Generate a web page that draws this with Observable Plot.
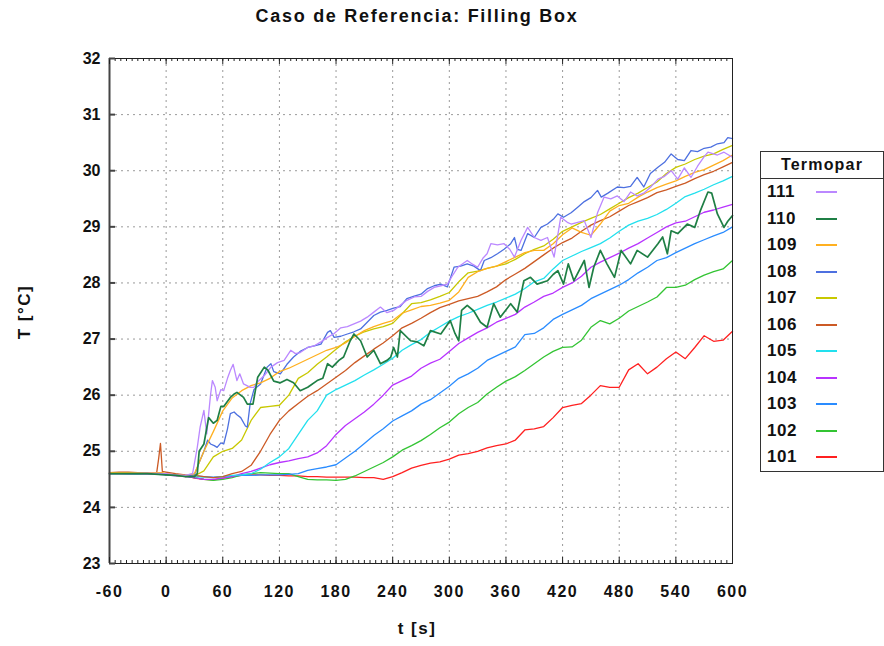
<!DOCTYPE html>
<html><head><meta charset="utf-8">
<script src="https://cdn.jsdelivr.net/npm/d3@7"></script>
<script src="https://cdn.jsdelivr.net/npm/@observablehq/plot@0.6"></script>
<style>
body{margin:0;background:#fff;font-family:"Liberation Sans",Arial,sans-serif;}
#wrap{position:relative;width:884px;height:646px;overflow:hidden;background:#fff;}
#chart svg{display:block}
#chart svg [aria-label="x-axis tick label"] text{letter-spacing:1.5px}
.title{position:absolute;left:0;width:834px;top:6px;text-align:center;font-weight:bold;font-size:18px;letter-spacing:1.7px;color:#111}
.ylab{position:absolute;left:25px;top:312px;transform:translate(-50%,-50%) rotate(-90deg);white-space:nowrap;font-weight:bold;font-size:17px;letter-spacing:1.5px;color:#111}
.xlab{position:absolute;left:417px;top:629px;transform:translate(-50%,-50%);white-space:nowrap;font-weight:bold;font-size:17px;letter-spacing:1.5px;color:#111}
#legend{position:absolute;left:760px;top:151px;width:122px;height:319px;border:1px solid #333;background:#fff;}
#legend .hdr{height:26px;border-bottom:1px solid #333;text-align:center;font-weight:bold;font-size:16px;line-height:26px;letter-spacing:1.2px;color:#111}
#legend .row{position:relative;height:26.5px;}
#legend .row span{position:absolute;left:6px;top:50%;transform:translateY(-50%);font-weight:bold;font-size:17px;color:#111;letter-spacing:0.5px}
#legend .row i{position:absolute;left:55px;width:21px;top:50%;height:0;border-top:2px solid;transform:translateY(-1px)}
</style>
</head><body>
<div id="wrap">
  <div id="chart"></div>
  <div class="title">Caso de Referencia: Filling Box</div>
  <div class="ylab">T [°C]</div>
  <div class="xlab">t [s]</div>
  <div id="legend"></div>
</div>
<script>
// ---- tick / axis values ----
const xTicks = [-60, 0, 60, 120, 180, 240, 300, 360, 420, 480, 540, 600];
const yTicks = [23, 24, 25, 26, 27, 28, 29, 30, 31, 32];
const legendTitle = "Termopar";

// ---- series ids and colours (legend order) ----
const ids = ["111", "110", "109", "108", "107", "106", "105", "104", "103", "102", "101"];
const colors = ["#bb88ff", "#1f7f45", "#ffb020", "#4d70e0", "#c8c800", "#cc5a25", "#22e0ee", "#b833ff", "#2a8cff", "#33c433", "#ff2020"];

// ---- shared time grid (s) ----
const tGrid = [-60,-50,-40,-30,-20,-10,-8,-6,-4,
  0,10,20,30,40,50,60,70,80,90,
  100,110,120,130,140,150,160,170,180,190,
  200,210,220,230,240,250,260,270,280,290,
  300,310,320,330,340,350,360,370,380,390,
  400,410,420,430,440,450,460,470,480,490,
  500,510,520,530,540,550,560,570,580,590,
  600];

const v101 = [24.62,24.62,24.62,24.62,24.61,24.6,24.6,24.6,24.6,
  24.6,24.58,24.57,24.52,24.5,24.49,24.52,24.55,24.57,24.58,
  24.58,24.57,24.57,24.56,24.56,24.55,24.55,24.54,24.54,24.54,
  24.54,24.53,24.53,24.5,24.55,24.62,24.7,24.75,24.79,24.81,
  24.86,24.93,24.96,25.0,25.06,25.1,25.13,25.2,25.38,25.4,
  25.44,25.6,25.78,25.82,25.85,26.0,26.17,26.14,26.14,26.45,
  26.56,26.38,26.5,26.65,26.77,26.65,26.85,27.06,26.96,26.98,
  27.14];
const v102 = [24.6,24.6,24.6,24.59,24.6,24.6,24.6,24.6,24.6,
  24.58,24.57,24.56,24.53,24.5,24.48,24.5,24.53,24.58,24.6,
  24.62,24.61,24.6,24.6,24.55,24.5,24.49,24.49,24.48,24.5,
  24.56,24.64,24.72,24.8,24.9,25.02,25.1,25.19,25.3,25.42,
  25.52,25.67,25.78,25.87,26.02,26.14,26.25,26.33,26.44,26.56,
  26.68,26.78,26.85,26.86,26.98,27.21,27.33,27.27,27.37,27.5,
  27.58,27.66,27.75,27.92,27.92,27.96,28.06,28.14,28.2,28.25,
  28.4];
const v103 = [24.6,24.6,24.59,24.59,24.6,24.6,24.6,24.6,24.6,
  24.58,24.58,24.57,24.56,24.55,24.54,24.55,24.56,24.57,24.57,
  24.58,24.58,24.58,24.59,24.6,24.66,24.69,24.72,24.76,24.88,
  25.0,25.14,25.28,25.4,25.54,25.63,25.72,25.84,25.92,26.04,
  26.16,26.3,26.38,26.48,26.62,26.7,26.78,26.86,27.08,27.1,
  27.2,27.35,27.44,27.52,27.6,27.72,27.8,27.88,27.96,28.06,
  28.18,28.28,28.4,28.45,28.54,28.62,28.7,28.77,28.84,28.9,
  29.0];
const v104 = [24.6,24.6,24.6,24.6,24.59,24.6,24.6,24.6,24.6,
  24.58,24.56,24.55,24.53,24.5,24.5,24.52,24.55,24.6,24.64,
  24.7,24.76,24.8,24.83,24.87,24.9,24.97,25.1,25.3,25.46,
  25.58,25.7,25.84,26.0,26.18,26.26,26.34,26.48,26.57,26.64,
  26.78,26.92,27.02,27.12,27.2,27.3,27.37,27.44,27.57,27.66,
  27.76,27.82,27.92,28.0,28.12,28.28,28.37,28.45,28.53,28.62,
  28.7,28.8,28.9,29.0,29.07,29.1,29.18,29.26,29.3,29.35,
  29.4];
const v105 = [24.6,24.6,24.6,24.6,24.6,24.6,24.6,24.6,24.6,
  24.58,24.57,24.56,24.55,24.54,24.53,24.55,24.57,24.58,24.6,
  24.68,24.8,24.9,25.05,25.3,25.55,25.72,26.0,26.1,26.18,
  26.26,26.36,26.45,26.55,26.66,26.8,26.9,26.99,27.12,27.22,
  27.32,27.4,27.46,27.53,27.6,27.66,27.73,27.8,27.9,28.02,
  28.08,28.25,28.4,28.48,28.56,28.63,28.7,28.8,28.92,29.03,
  29.1,29.15,29.22,29.31,29.42,29.54,29.6,29.67,29.75,29.82,
  29.9];
const v106 = [24.62,24.63,24.63,24.62,24.62,24.62,24.86,25.14,24.64,
  24.63,24.6,24.58,24.57,24.55,24.53,24.55,24.6,24.64,24.75,
  25.0,25.3,25.55,25.72,25.85,25.98,26.08,26.2,26.32,26.44,
  26.58,26.7,26.82,26.93,27.06,27.2,27.28,27.37,27.47,27.56,
  27.62,27.68,27.72,27.76,27.84,27.93,28.06,28.16,28.26,28.38,
  28.5,28.62,28.72,28.8,28.92,29.03,29.11,29.18,29.28,29.38,
  29.45,29.52,29.61,29.66,29.72,29.78,29.86,29.93,29.99,30.07,
  30.15];
const v107 = [24.6,24.6,24.6,24.6,24.6,24.6,24.6,24.6,24.6,
  24.58,24.57,24.55,24.56,24.65,24.9,25.0,25.05,25.2,25.55,
  25.78,25.8,25.82,26.0,26.3,26.4,26.55,26.68,26.82,26.95,
  27.05,27.13,27.18,27.22,27.28,27.45,27.63,27.65,27.7,27.76,
  27.83,28.02,28.18,28.21,28.26,28.3,28.34,28.42,28.52,28.6,
  28.66,28.78,28.92,29.0,29.08,29.15,29.22,29.32,29.42,29.52,
  29.6,29.7,29.8,29.95,30.06,30.12,30.2,30.26,30.3,30.38,
  30.45];
const v109 = [24.62,24.62,24.62,24.62,24.62,24.62,24.62,24.62,24.62,
  24.6,24.58,24.57,24.6,25.0,25.35,25.72,25.95,26.08,26.17,
  26.22,26.3,26.42,26.48,26.56,26.64,26.72,26.8,26.85,26.93,
  27.05,27.15,27.22,27.28,27.33,27.46,27.52,27.58,27.6,27.64,
  27.69,27.84,28.1,28.2,28.26,28.3,28.38,28.46,28.54,28.58,
  28.58,28.7,28.86,28.98,28.9,28.85,29.05,29.28,29.38,29.42,
  29.53,29.62,29.7,29.76,29.82,29.9,29.97,30.02,30.1,30.18,
  30.28];

// ---- noisier series with their own sample times ----
const t108 = [-60,-40,-20,0,10,20,30,35,40,44,47,51,54,58,61,65,68,72,75,79,84,86,89,93,100,107,111,114,121,128,135,142,150,157,164,171,174,178,185,192,199,206,213,220,227,234,241,248,255,262,270,277,284,291,298,305,312,319,326,333,337,344,351,358,365,369,372,376,383,390,397,404,411,415,421,429,436,443,450,457,461,468,478,485,492,499,506,513,521,528,535,542,549,556,563,570,577,584,591,595,600];
const v108 = [24.6,24.6,24.6,24.58,24.57,24.56,24.58,24.8,25.0,25.2,25.13,25.1,25.07,25.15,25.13,25.4,25.67,25.7,25.65,25.6,25.45,25.43,25.85,26.1,26.2,26.5,26.56,26.42,26.38,26.55,26.68,26.78,26.85,26.88,26.91,27.12,27.15,27.03,27.05,27.09,27.13,27.18,27.3,27.42,27.48,27.51,27.55,27.58,27.72,27.76,27.8,27.9,27.95,27.98,27.93,28.28,28.3,28.34,28.3,28.22,28.4,28.45,28.52,28.6,28.7,28.81,28.6,28.58,28.88,28.81,28.99,29.05,29.15,29.23,29.17,29.25,29.35,29.45,29.52,29.65,29.53,29.6,29.71,29.7,29.72,29.88,29.71,29.95,30.06,30.15,30.3,30.2,30.18,30.36,30.34,30.4,30.42,30.48,30.5,30.59,30.57];

const t110 = [-60,-40,-20,0,10,20,30,33,35,40,45,50,54,58,61,68,72,75,82,86,92,97,104,108,114,121,128,135,142,150,160,166,171,176,183,188,195,199,206,213,220,227,234,238,241,245,248,259,266,273,280,291,301,306,310,313,319,326,333,340,347,354,365,372,379,386,393,404,410,415,421,426,432,443,448,453,460,467,475,482,492,499,510,521,526,531,535,542,552,560,566,574,578,584,591,595,600];
const v110 = [24.6,24.6,24.6,24.58,24.57,24.55,24.55,24.6,25.0,25.13,25.6,25.5,25.55,25.8,25.8,25.96,26.02,26.05,25.96,25.84,25.84,26.32,26.5,26.44,26.25,26.22,26.28,26.22,26.08,26.14,26.26,26.3,26.56,26.5,26.62,26.68,26.97,27.09,26.97,26.68,26.8,26.56,26.62,26.68,26.85,26.68,27.15,26.97,26.95,26.88,27.15,27.09,27.33,27.1,26.97,27.51,27.6,27.5,27.3,27.21,27.63,27.39,27.63,27.48,28.04,28.1,27.98,28.04,28.15,28.22,27.98,28.34,28.04,28.4,27.92,28.28,28.58,28.34,28.1,28.58,28.34,28.58,28.46,28.7,28.82,28.52,28.93,28.88,29.05,28.99,29.29,29.62,29.6,29.23,28.99,29.1,29.2];

const t111 = [-60,-40,-20,0,10,20,28,33,36,40,43,47,49,52,54,58,61,65,68,71,75,78,82,89,93,97,104,111,118,125,132,137,142,150,157,164,171,178,185,192,199,206,213,220,227,234,241,248,255,263,270,277,284,291,298,304,309,319,325,330,336,340,344,351,358,364,369,376,383,390,397,404,411,418,425,429,436,443,450,457,464,471,478,485,492,499,506,514,521,528,535,542,549,556,563,570,574,584,591,600];
const v111 = [24.6,24.6,24.61,24.6,24.58,24.57,24.6,25.07,25.43,25.73,25.31,26.0,26.26,26.14,25.9,26.1,26.08,26.3,26.44,26.55,26.26,26.38,26.2,26.14,26.14,26.24,26.35,26.5,26.58,26.62,26.8,26.74,26.76,26.85,26.88,26.95,27.03,27.1,27.2,27.22,27.27,27.32,27.39,27.48,27.57,27.47,27.51,27.6,27.69,27.75,27.76,27.85,27.92,27.95,27.98,28.15,28.28,28.4,28.33,28.28,28.45,28.52,28.7,28.68,28.7,28.6,28.46,28.76,28.99,28.81,28.76,28.81,28.46,29.17,29.08,29.05,29.08,29.11,28.81,29.25,29.53,29.5,29.55,29.45,29.62,29.55,29.6,29.72,29.85,29.9,30.0,29.85,30.05,29.88,30.08,30.25,30.33,30.28,30.33,30.24];

// ---- build table (drawing order: 101 first) ----
const seriesList = [
  {id: "101", t: tGrid, v: v101},
  {id: "102", t: tGrid, v: v102},
  {id: "103", t: tGrid, v: v103},
  {id: "104", t: tGrid, v: v104},
  {id: "105", t: tGrid, v: v105},
  {id: "106", t: tGrid, v: v106},
  {id: "107", t: tGrid, v: v107},
  {id: "108", t: t108, v: v108},
  {id: "109", t: tGrid, v: v109},
  {id: "111", t: t111, v: v111},
  {id: "110", t: t110, v: v110}
];
const rows = seriesList.flatMap(s => s.t.map((t, i) => ({id: s.id, t, T: s.v[i]})));

const W = 884, H = 646, mL = 109, mR = 152, mT = 58, mB = 83;
const frameW = W - mL - mR, frameH = H - mT - mB;
const xMinor = d3.range(xTicks[0], xTicks[xTicks.length - 1] + 1, 6);
const xGrid = xTicks.slice(1, -1);
const yGrid = yTicks.slice(1, -1);
const fmt = d => String(d);

const chart = Plot.plot({
  width: W, height: H,
  marginLeft: mL, marginRight: mR, marginTop: mT, marginBottom: mB,
  x: {domain: [xTicks[0], xTicks[xTicks.length - 1]]},
  y: {domain: [yTicks[0], yTicks[yTicks.length - 1]]},
  color: {domain: ids, range: colors},
  style: {fontFamily: "'Liberation Sans', Arial, sans-serif", background: "white", color: "#111"},
  marks: [
    Plot.gridX(xGrid, {stroke: "#9a9a9a", strokeOpacity: 1, strokeDasharray: "2,4"}),
    Plot.gridY(yGrid, {stroke: "#9a9a9a", strokeOpacity: 1, strokeDasharray: "2,4"}),
    Plot.line(rows.filter(d => d.id !== "110"), {x: "t", y: "T", z: "id", stroke: "id", strokeWidth: 1.3}),
    Plot.line(rows.filter(d => d.id === "110"), {x: "t", y: "T", z: "id", stroke: "id", strokeWidth: 1.7}),
    Plot.frame({stroke: "#222"}),
    Plot.ruleX([xTicks[0]], {stroke: "#444", strokeWidth: 2}),
    Plot.tickX(xMinor, {x: d => d, insetTop: frameH - 3, stroke: "#222"}),
    Plot.tickX(xMinor, {x: d => d, insetBottom: frameH - 3, stroke: "#222"}),
    Plot.tickX(xTicks, {x: d => d, insetTop: frameH - 6, stroke: "#222"}),
    Plot.tickX(xTicks, {x: d => d, insetBottom: frameH - 6, stroke: "#222"}),
    Plot.tickY(yTicks, {y: d => d, insetRight: frameW - 6, stroke: "#444", strokeWidth: 2}),
    Plot.axisX(xTicks, {tickSize: 0, tickPadding: 22, tickFormat: fmt, fontSize: 16, fontWeight: "bold", label: null, fill: "#111"}),
    Plot.axisY(yTicks, {tickSize: 0, tickPadding: 9, tickFormat: fmt, fontSize: 16, fontWeight: "bold", label: null, fill: "#111"})
  ]
});
document.getElementById("chart").appendChild(chart);

// ---- legend (same ids/colours as the colour scale) ----
const leg = document.getElementById("legend");
const hdr = document.createElement("div");
hdr.className = "hdr"; hdr.textContent = legendTitle;
leg.appendChild(hdr);
ids.forEach((id, k) => {
  const r = document.createElement("div");
  r.className = "row";
  const s = document.createElement("span"); s.textContent = id;
  const l = document.createElement("i"); l.style.borderTopColor = colors[k];
  r.appendChild(s); r.appendChild(l);
  leg.appendChild(r);
});
</script>
</body></html>
